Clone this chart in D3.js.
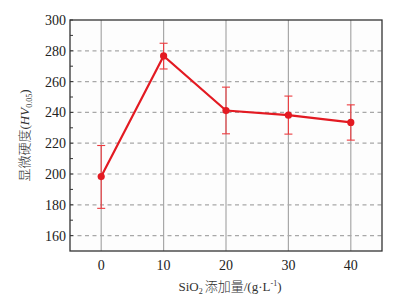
<!DOCTYPE html>
<html>
<head>
<meta charset="utf-8">
<script src="https://cdn.jsdelivr.net/npm/d3@7"></script>
<style>
  body { margin: 0; background: #fff; }
  text { font-family: "Liberation Serif", "Times New Roman", serif; }
  .cjk { font-family: "Noto Sans CJK SC", sans-serif; }
</style>
</head>
<body>
<div id="chart"></div>
<script>
// SiO2 addition vs microhardness
const additions = [0, 10, 20, 30, 40];
const hardness = [198.3, 276.7, 241.2, 238.2, 233.5];
const errUpper = [218.5, 284.9, 256.4, 250.6, 244.9];
const errLower = [177.7, 268.2, 226.1, 225.9, 222.0];
const xTicks = [0, 10, 20, 30, 40];
const yTicks = [160, 180, 200, 220, 240, 260, 280, 300];

const width = 409, height = 301;
const margin = { top: 20, right: 27, bottom: 50, left: 70 };

const svg = d3.select("#chart")
    .append("svg")
    .attr("width", width)
    .attr("height", height);

const x = d3.scaleLinear().domain([-5, 45]).range([margin.left, width - margin.right]);
const y = d3.scaleLinear().domain([150, 300]).range([height - margin.bottom, margin.top]);

// plot background
svg.append("rect")
    .attr("x", x(-5)).attr("y", y(300))
    .attr("width", x(45) - x(-5)).attr("height", y(150) - y(300))
    .attr("fill", "#fdfdfd");

// vertical grid
svg.selectAll(".vgrid")
    .data(xTicks)
    .enter().append("line")
    .attr("x1", d => x(d)).attr("x2", d => x(d))
    .attr("y1", y(300)).attr("y2", y(150))
    .attr("stroke", "#a8a8a8").attr("stroke-width", 1.2);

// horizontal dashed grid
svg.selectAll(".hgrid")
    .data(yTicks.filter(d => d < 300))
    .enter().append("line")
    .attr("x1", x(-5)).attr("x2", x(45))
    .attr("y1", d => y(d)).attr("y2", d => y(d))
    .attr("stroke", "#a8a8a8").attr("stroke-width", 1.2)
    .attr("stroke-dasharray", "4,3.5");

// y ticks (major and minor, pointing in)
const minor = d3.range(160, 300, 10);
svg.selectAll(".ytick")
    .data(minor.concat([300]))
    .enter().append("line")
    .attr("x1", x(-5)).attr("x2", x(-5) + 3)
    .attr("y1", d => y(d)).attr("y2", d => y(d))
    .attr("stroke", "#333").attr("stroke-width", 1);

// frame
svg.append("rect")
    .attr("x", x(-5)).attr("y", y(300))
    .attr("width", x(45) - x(-5)).attr("height", y(150) - y(300))
    .attr("fill", "none").attr("stroke", "#333").attr("stroke-width", 1.3);

// tick labels
svg.selectAll(".ylab")
    .data(yTicks)
    .enter().append("text")
    .attr("x", x(-5) - 4)
    .attr("y", d => y(d))
    .attr("dy", "0.35em")
    .attr("text-anchor", "end")
    .attr("font-size", 14)
    .attr("fill", "#222")
    .text(d => d);

svg.selectAll(".xlab")
    .data(xTicks)
    .enter().append("text")
    .attr("x", d => x(d))
    .attr("y", y(150) + 19)
    .attr("text-anchor", "middle")
    .attr("font-size", 14)
    .attr("fill", "#222")
    .text(d => d);

// error bars
const errColor = "#ec3b3f";
const pts = additions.map((a, i) => ({ a, v: hardness[i], hi: errUpper[i], lo: errLower[i] }));
const eb = svg.selectAll(".err").data(pts).enter().append("g");
eb.append("line")
    .attr("x1", d => x(d.a)).attr("x2", d => x(d.a))
    .attr("y1", d => y(d.hi)).attr("y2", d => y(d.lo))
    .attr("stroke", errColor).attr("stroke-width", 1.1);
eb.append("line")
    .attr("x1", d => x(d.a) - 4).attr("x2", d => x(d.a) + 4)
    .attr("y1", d => y(d.hi)).attr("y2", d => y(d.hi))
    .attr("stroke", errColor).attr("stroke-width", 1.1);
eb.append("line")
    .attr("x1", d => x(d.a) - 4).attr("x2", d => x(d.a) + 4)
    .attr("y1", d => y(d.lo)).attr("y2", d => y(d.lo))
    .attr("stroke", errColor).attr("stroke-width", 1.1);

// line + points
svg.append("path")
    .datum(pts)
    .attr("fill", "none")
    .attr("stroke", "#e31a22")
    .attr("stroke-width", 2.2)
    .attr("d", d3.line().x(d => x(d.a)).y(d => y(d.v)));

svg.selectAll(".pt")
    .data(pts)
    .enter().append("circle")
    .attr("cx", d => x(d.a)).attr("cy", d => y(d.v))
    .attr("r", 3.6)
    .attr("fill", "#e31a22");

// y axis title
const yt = svg.append("text")
    .attr("transform", `translate(29, ${(y(150) + y(300)) / 2}) rotate(-90)`)
    .attr("text-anchor", "middle")
    .attr("font-size", 13)
    .attr("fill", "#333");
yt.append("tspan").attr("class", "cjk").attr("font-weight", 300).text("显微硬度");
yt.append("tspan").text("(");
yt.append("tspan").attr("font-style", "italic").text("HV");
yt.append("tspan").attr("font-size", 8).attr("dy", 3).text("0.05");
yt.append("tspan").attr("dy", -3).text(")");

// x axis title
const xt = svg.append("text")
    .attr("x", x(20) + 4)
    .attr("y", 291)
    .attr("text-anchor", "middle")
    .attr("font-size", 13)
    .attr("fill", "#333");
xt.append("tspan").text("SiO");
xt.append("tspan").attr("font-size", 8).attr("dy", 3).text("2");
xt.append("tspan").attr("dy", -3).attr("class", "cjk").attr("font-weight", 300).attr("dx", 2).text("添加量");
xt.append("tspan").text("/(g·L");
xt.append("tspan").attr("font-size", 8).attr("dy", -5).text("-1");
xt.append("tspan").attr("dy", 5).text(")");
</script>
</body>
</html>
